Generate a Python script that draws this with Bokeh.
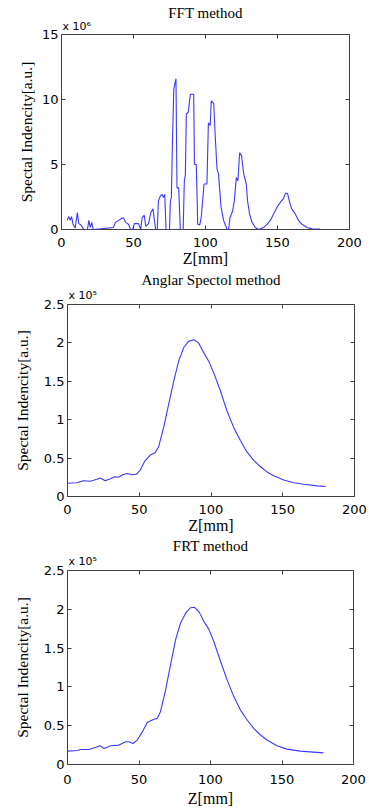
from bokeh.plotting import figure
from bokeh.models import (Range1d, LinearAxis, FixedTicker, CustomJSTickFormatter, Title)
from bokeh.layouts import column
from bokeh.embed import file_html
from bokeh.resources import INLINE

# ---------------- data ----------------
x_ticks = [0, 50, 100, 150, 200]

# FFT method (values in units of 1e6)
fft_z = [4, 5, 6, 7, 8, 9.5, 11, 12, 13.5, 15.5, 18, 19, 20, 21, 22, 27, 36, 37.5, 41, 43,
         44.5, 46.5, 48, 49.5, 50.6, 53.5, 55, 56, 57.5, 58.5, 60.5, 62, 63.5, 64.5, 65.4, 66.5,
         67.3, 68.7, 70, 70.7, 71.7, 72.6, 75, 75.6, 76.3, 77, 78, 79.5, 80.2, 81.4, 82.5, 84.5,
         85.3, 86, 86.7, 88, 89.5, 91.8, 92.3, 93.6, 94.6, 96, 97, 99, 101, 102, 103.3, 104,
         105.7, 106.8, 108, 109, 110.8, 112.6, 115, 116, 117, 118.8, 120, 121.4, 122.5, 123.7,
         125, 126.5, 128.3, 129.2, 130.6, 132.3, 134.6, 136.9, 140.3, 142.7, 145, 147.3, 149.6,
         152, 154, 155.6, 157, 158.4, 160, 162.3, 164.6, 167, 170.4, 174, 179.6]
fft_v = [0.7, 1.0, 0.7, 1.0, 0.4, 0.1, 1.3, 0.45, 0.35, 0.0, 0.0, 0.7, 0.15, 0.55, 0.0, 0.05,
         0.15, 0.55, 0.8, 0.9, 0.55, 0.4, 0.0, 0.0, 0.45, 0.45, 0.0, 0.9, 1.1, 0.25, 0.45, 1.3,
         1.6, 0.7, 0.0, 0.0, 2.2, 2.6, 2.7, 2.45, 2.7, 0.0, 0.0, 2.2, 2.45, 6.45, 10.8, 11.6,
         3.2, 3.2, 0.0, 0.0, 3.75, 4.2, 8.9, 9.0, 10.4, 10.4, 5.0, 5.0, 0.4, 0.35, 0.9, 3.5,
         3.5, 8.2, 8.0, 9.9, 9.7, 7.1, 4.65, 4.3, 1.7, 0.7, 0.0, 0.0, 0.9, 1.4, 2.2, 4.0, 3.75,
         5.9, 5.7, 4.3, 3.5, 2.2, 1.2, 0.55, 0.15, 0.0, 0.15, 0.4, 0.7, 1.2, 1.7, 2.1, 2.35,
         2.8, 2.75, 2.1, 1.55, 1.2, 0.7, 0.4, 0.15, 0.05, 0.03]
fft_yticks = [0, 5, 10, 15]

# Angular spectrum method (values in units of 1e5)
ang_z = [0, 6.5, 11, 15.8, 20.5, 22.8, 26.3, 29.8, 33, 35.6, 38, 41.4, 45, 48, 50.7, 54, 57.7,
         61, 63.5, 67, 70.5, 74, 77.4, 81, 84.4, 88, 91.4, 95, 98.4, 101.9, 106.5, 111, 115.8,
         120.5, 125, 129.8, 134.4, 139, 143.7, 150.7, 157.7, 164.7, 174, 180]
ang_v = [0.172, 0.18, 0.206, 0.198, 0.224, 0.24, 0.206, 0.232, 0.258, 0.25, 0.28, 0.30, 0.284,
         0.29, 0.344, 0.465, 0.54, 0.57, 0.645, 0.90, 1.2, 1.5, 1.76, 1.94, 2.02, 2.04, 2.0,
         1.87, 1.76, 1.61, 1.38, 1.12, 0.90, 0.73, 0.58, 0.47, 0.39, 0.32, 0.27, 0.215, 0.18,
         0.16, 0.138, 0.13]

# FRT method (values in units of 1e5)
frt_z = [0, 7, 9.3, 15, 20.9, 22.6, 25.6, 30.2, 36, 40.7, 43, 45.8, 48.8, 52.3, 55.8, 59.3,
         62.8, 65, 68.6, 72, 75.6, 79, 82.6, 86, 88.8, 91.9, 95.3, 98.8, 102.3, 107, 111.6,
         116.3, 121, 125.6, 130.2, 134.9, 139.5, 146.5, 153.5, 162.8, 172, 179]
frt_v = [0.172, 0.181, 0.194, 0.194, 0.228, 0.241, 0.207, 0.241, 0.25, 0.293, 0.293, 0.27,
         0.315, 0.42, 0.54, 0.573, 0.595, 0.68, 0.96, 1.28, 1.61, 1.82, 1.95, 2.02, 2.026,
         1.97, 1.845, 1.745, 1.585, 1.33, 1.09, 0.875, 0.70, 0.573, 0.465, 0.38, 0.315, 0.241,
         0.198, 0.172, 0.16, 0.15]
spec_yticks = [0, 0.5, 1, 1.5, 2, 2.5]

titles = ["FFT method", "Anglar Spectol method", "FRT method"]
multipliers = ["x 10\u2076", "x 10\u2075", "x 10\u2075"]
y_label = "Spectal Indencity[a.u.]"
x_label = "Z[mm]"

LINE = "#3a3aff"
AX = "#404040"
SERIF = "Liberation Serif"
SANS = "DejaVu Sans"


def make_panel(z, v, ymax, yticks, title, mult, height, borders, mult_standoff,
               title_standoff, ylab_standoff, tick_standoff, xlab_standoff):
    left, right, top, bottom = borders
    p = figure(width=369, height=height, output_backend="svg", toolbar_location=None,
               x_range=Range1d(0, 200), y_range=Range1d(0, ymax),
               min_border_left=left, min_border_right=right,
               min_border_top=top, min_border_bottom=bottom,
               x_axis_type=None, y_axis_type=None)
    p.background_fill_color = "white"
    p.border_fill_color = "white"
    p.outline_line_color = AX
    p.outline_line_width = 1
    p.grid.visible = False

    fmt = CustomJSTickFormatter(code="return tick.toString();")

    def make_axis(ticks, labels):
        ax = LinearAxis(ticker=FixedTicker(ticks=ticks))
        ax.major_tick_in = 4
        ax.major_tick_out = 0
        ax.minor_tick_line_color = None
        ax.major_tick_line_color = AX
        ax.axis_line_color = None
        ax.formatter = fmt
        if labels:
            ax.major_label_text_font = SANS
            ax.major_label_text_font_size = "13px"
            ax.major_label_text_color = "black"
        else:
            ax.major_label_text_font_size = "0px"
            ax.major_label_standoff = 0
        return ax

    xb = make_axis(x_ticks, True)
    xt = make_axis(x_ticks, False)
    yl = make_axis(yticks, True)
    yr = make_axis(yticks, False)
    xb.major_label_standoff = tick_standoff
    xb.axis_label = x_label
    xb.axis_label_text_font = SERIF
    xb.axis_label_text_font_style = "normal"
    xb.axis_label_text_font_size = "16px"
    xb.axis_label_text_color = "black"
    xb.axis_label_standoff = xlab_standoff
    yl.major_label_standoff = 3
    yl.axis_label = y_label
    yl.axis_label_text_font = SERIF
    yl.axis_label_text_font_style = "normal"
    yl.axis_label_text_font_size = "15.5px"
    yl.axis_label_text_color = "black"
    yl.axis_label_standoff = ylab_standoff
    p.add_layout(xb, "below")
    p.add_layout(xt, "above")
    p.add_layout(yl, "left")
    p.add_layout(yr, "right")

    p.line(z, v, line_color=LINE, line_width=1.1)

    p.add_layout(Title(text=mult, align="left", text_font=SANS, text_font_size="11px",
                       text_font_style="normal", text_color="black",
                       standoff=mult_standoff, offset=1), "above")
    p.add_layout(Title(text=title, align="center", text_font=SERIF, text_font_size="15px",
                       text_font_style="normal", text_color="black",
                       standoff=title_standoff), "above")
    return p


p1 = make_panel(fft_z, fft_v, 15, fft_yticks, titles[0], multipliers[0], 270,
                (61, 20, 34, 41), 3, -8, 4, 8, 0)
p2 = make_panel(ang_z, ang_v, 2.5, spec_yticks, titles[1], multipliers[1], 266,
                (67, 15, 34, 39), 6, -8, 10, 8, 0)
p3 = make_panel(frt_z, frt_v, 2.5, spec_yticks, titles[2], multipliers[2], 274,
                (67, 16, 34, 46), 6, -8, 10, 10, 3)

layout = column(column(p1), column(p2), column(p3), spacing=0)

open("out.html", "w").write(file_html(layout, INLINE))
